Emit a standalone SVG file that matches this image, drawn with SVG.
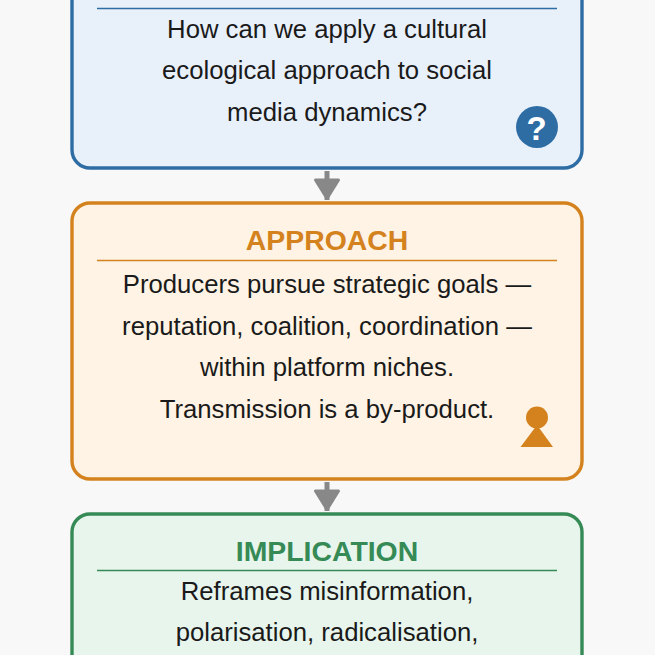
<svg xmlns="http://www.w3.org/2000/svg" width="655" height="655" viewBox="0 0 655 655">
<defs>
<marker id="arrow" markerUnits="userSpaceOnUse" markerWidth="26" markerHeight="28" refX="21.500" refY="13" orient="auto" viewBox="0 0 26 26" overflow="visible"><path d="M1.500 1.500L20 13L1.500 24.500Z" fill="#888" stroke="#888" stroke-width="3" stroke-linejoin="round"/></marker>
</defs>
<style>
text{font-family:"Liberation Sans",Arial,sans-serif;text-anchor:middle}
.b{font-size:25.7px;fill:#1a1a1a}
.h{font-size:28.400px;font-weight:700}
.box{stroke-width:3.4}
.rule{stroke-width:1.3}
.conn{stroke:#888;stroke-width:5;fill:none}
</style>
<rect width="655" height="655" fill="#f8f8f8"/>
<g id="connectors">
<line class="conn" x1="327" y1="171" x2="327" y2="200" marker-end="url(#arrow)"/>
<line class="conn" x1="327" y1="482" x2="327" y2="511" marker-end="url(#arrow)"/>
</g>
<g id="question">
<rect class="box" x="72" y="-60" width="510" height="228" rx="18" fill="#e8f0fa" stroke="#2e6da4"/>
<line class="rule" x1="97" y1="8.500" x2="557" y2="8.500" stroke="#2e6da4"/>
<text class="b" x="327" y="38">How can we apply a cultural</text>
<text class="b" x="327" y="79">ecological approach to social</text>
<text class="b" x="327" y="120.500">media dynamics?</text>
<circle cx="537" cy="127" r="21" fill="#2e6da4"/>
<text x="536.500" y="140" font-size="33" font-weight="700" fill="#fff">?</text>
</g>
<g id="approach">
<rect class="box" x="72" y="203" width="510" height="276" rx="18" fill="#fef3e4" stroke="#d4821e"/>
<text class="h" x="327" y="250" fill="#d4821e">APPROACH</text>
<line class="rule" x1="97" y1="260.500" x2="557" y2="260.500" stroke="#d4821e"/>
<text class="b" x="327" y="293">Producers pursue strategic goals —</text>
<text class="b" x="327" y="335">reputation, coalition, coordination —</text>
<text class="b" x="327" y="376">within platform niches.</text>
<text class="b" x="327" y="418">Transmission is a by-product.</text>
<circle cx="537" cy="417.500" r="11" fill="#d4821e"/>
<path d="M537 425L553 447H520.500Z" fill="#d4821e"/>
</g>
<g id="implication">
<rect class="box" x="72" y="514" width="510" height="240" rx="18" fill="#e8f5ec" stroke="#358a56"/>
<text class="h" x="327" y="561" fill="#358a56">IMPLICATION</text>
<line class="rule" x1="97" y1="570.500" x2="557" y2="570.500" stroke="#358a56"/>
<text class="b" x="327" y="600">Reframes misinformation,</text>
<text class="b" x="327" y="641">polarisation, radicalisation,</text>
</g>
</svg>
